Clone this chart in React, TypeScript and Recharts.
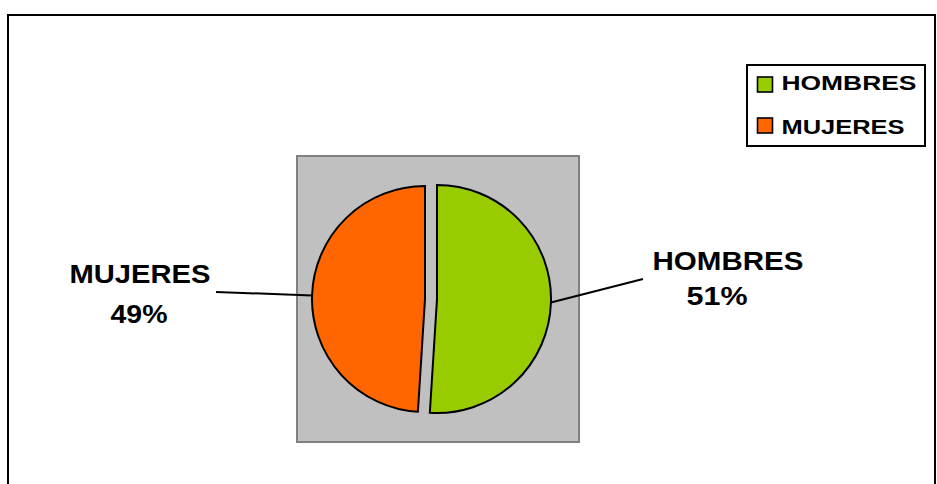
import React from 'react';
import { PieChart, Pie, Cell, Legend } from 'recharts';

const categories = ['HOMBRES', 'MUJERES'];
const values = [51, 49];
const percentLabels = ['51%', '49%'];
const colors = ['#99CC00', '#FF6600'];

const data = categories.map((name, i) => ({ name, value: values[i] }));

const FONT = "'Liberation Sans', Arial, Helvetica, sans-serif";
const RAD = Math.PI / 180;

// label layout relative to each slice's pie centre
const labelLayout = [
  { lineEnd: [206, -20], name: [291, -29, 151], pct: [280, 6, 61] },
  { lineEnd: [-209, -7], name: [-285, -16, 141], pct: [-286, 24, 57] },
];

const makeLabel = (visibleIndex: number) => (props: any) => {
  const { cx, cy, midAngle, outerRadius, index } = props;
  if (index !== visibleIndex) return null;
  const L = labelLayout[index];
  const sx = cx + outerRadius * Math.cos(-midAngle * RAD);
  const sy = cy + outerRadius * Math.sin(-midAngle * RAD);
  const ex = cx + L.lineEnd[0];
  const ey = cy + L.lineEnd[1];
  return (
    <g>
      <line x1={sx} y1={sy} x2={ex} y2={ey} stroke="#000" strokeWidth={2} />
      <text
        x={cx + L.name[0]}
        y={cy + L.name[1]}
        textAnchor="middle"
        fontFamily={FONT}
        fontWeight="bold"
        fontSize={25.5}
        fill="#000"
        textLength={L.name[2]}
        lengthAdjust="spacingAndGlyphs"
      >
        {categories[index]}
      </text>
      <text
        x={cx + L.pct[0]}
        y={cy + L.pct[1]}
        textAnchor="middle"
        fontFamily={FONT}
        fontWeight="bold"
        fontSize={25.5}
        fill="#000"
        textLength={L.pct[2]}
        lengthAdjust="spacingAndGlyphs"
      >
        {percentLabels[index]}
      </text>
    </g>
  );
};

const legendRows = [
  { markerY: 13, textY: 26.3, len: 135 },
  { markerY: 54, textY: 69.5, len: 123 },
];

const LegendContent = () => (
  <svg width={180} height={83} style={{ display: 'block' }}>
    <rect x={1} y={1} width={178} height={81} fill="#fff" stroke="#000" strokeWidth={2} />
    {categories.map((name, i) => (
      <g key={name}>
        <rect
          x={11.5}
          y={legendRows[i].markerY}
          width={15}
          height={15}
          fill={colors[i]}
          stroke="#000"
          strokeWidth={1.6}
        />
        <text
          x={35.5}
          y={legendRows[i].textY}
          fontFamily={FONT}
          fontWeight="bold"
          fontSize={20.5}
          fill="#000"
          textLength={legendRows[i].len}
          lengthAdjust="spacingAndGlyphs"
        >
          {name}
        </text>
      </g>
    ))}
  </svg>
);

export default function App() {
  return (
    <div
      style={{
        position: 'absolute',
        left: 0,
        top: 0,
        width: 937,
        height: 484,
        overflow: 'hidden',
        background: '#fff',
      }}
    >
      <div
        style={{
          position: 'absolute',
          left: 7,
          top: 14,
          width: 929,
          height: 490,
          border: '2px solid #000',
          boxSizing: 'border-box',
        }}
      />
      <div
        style={{
          position: 'absolute',
          left: 296,
          top: 155,
          width: 284,
          height: 288,
          background: '#C0C0C0',
          border: '2px solid #808080',
          boxSizing: 'border-box',
        }}
      />
      <div style={{ position: 'absolute', left: 0, top: 0 }}>
        <PieChart width={937} height={484} margin={{ top: 0, right: 0, bottom: 0, left: 0 }}>
          <Pie
            data={data}
            dataKey="value"
            nameKey="name"
            cx={437}
            cy={299}
            outerRadius={114}
            startAngle={90}
            endAngle={-270}
            isAnimationActive={false}
            label={makeLabel(0)}
            labelLine={false}
            legendType="square"
          >
            {data.map((d, i) => (
              <Cell
                key={d.name}
                fill={i === 0 ? colors[0] : 'none'}
                stroke={i === 0 ? '#000' : 'none'}
                strokeWidth={2}
              />
            ))}
          </Pie>
          <Pie
            data={data}
            dataKey="value"
            nameKey="name"
            cx={425}
            cy={299}
            outerRadius={113}
            startAngle={90}
            endAngle={-270}
            isAnimationActive={false}
            label={makeLabel(1)}
            labelLine={false}
            legendType="none"
          >
            {data.map((d, i) => (
              <Cell
                key={d.name}
                fill={i === 1 ? colors[1] : 'none'}
                stroke={i === 1 ? '#000' : 'none'}
                strokeWidth={2}
              />
            ))}
          </Pie>
          <Legend
            layout="vertical"
            align="right"
            verticalAlign="middle"
            content={<LegendContent />}
            wrapperStyle={{ position: 'absolute', left: 746, top: 64, width: 180, height: 83 }}
          />
        </PieChart>
      </div>
    </div>
  );
}
